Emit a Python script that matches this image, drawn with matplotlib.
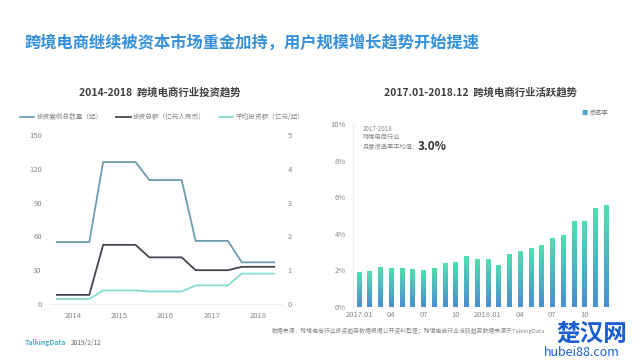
import matplotlib.pyplot as plt
import matplotlib.colors as mcolors
import numpy as np

plt.rcParams['font.family'] = ['Noto Sans CJK SC', 'DejaVu Sans']

# 投资趋势 2014-2018
years = [2014, 2015, 2016, 2017, 2018]
case_count = [55, 126, 110, 56, 37]          # 投资案例总数量（起），左轴
total_amount = [0.27, 1.75, 1.38, 1.0, 1.1]  # 投资总额，右轴
avg_amount = [0.15, 0.40, 0.37, 0.55, 0.90]  # 平均投资额，右轴

# 活跃趋势 2017.01-2018.12
months = list(range(24))
penetration = [1.9, 1.95, 2.2, 2.15, 2.15, 2.1, 2.0, 2.15, 2.4, 2.45, 2.8, 2.65,
               2.6, 2.3, 2.9, 3.05, 3.2, 3.4, 3.75, 3.95, 4.7, 4.7, 5.4, 5.55]
month_ticks = [0, 3, 6, 9, 12, 15, 18, 21]
month_labels = ['2017.01', '04', '07', '10', '2018.01', '04', '07', '10']

W, H = 640, 360


def px(x, y, w, h):
    return [x / W, 1 - (y + h) / H, w / W, h / H]


def fy(y):
    return 1 - y / H


def stepline(xs, vs, half=0.35):
    xx, yy = [], []
    for x, v in zip(xs, vs):
        xx += [x - half, x + half]
        yy += [v, v]
    return xx, yy


fig = plt.figure(figsize=(6.4, 3.6), dpi=100)
fig.patch.set_facecolor('white')

fig.text(25 / W, fy(42), '跨境电商继续被资本市场重金加持，用户规模增长趋势开始提速',
         fontsize=11.7, fontweight='bold', color='#3590dc', va='center', ha='left')

# ---- 左图 ----
fig.text(160 / W, fy(92), '2014-2018  跨境电商行业投资趋势', fontsize=7.5,
         fontweight='bold', color='#404040', ha='center', va='center')

ax1 = fig.add_axes(px(50, 135, 232, 169))
ax2 = ax1.twinx()
grey = '#888888'
c_count, c_total, c_avg = '#6c9cb0', '#454552', '#86dccf'

x, y = stepline(years, case_count)
l1, = ax1.plot(x, y, color=c_count, lw=1.3)
x, y = stepline(years, total_amount)
l2, = ax2.plot(x, y, color=c_total, lw=1.3)
x, y = stepline(years, avg_amount)
l3, = ax2.plot(x, y, color=c_avg, lw=1.3)

ax1.set_ylim(0, 150)
ax2.set_ylim(0, 5)
ax1.set_xlim(2013.5, 2018.52)
ax1.set_yticks([0, 30, 60, 90, 120, 150])
ax2.set_yticks([0, 1, 2, 3, 4, 5])
ax1.set_xticks(years)
for a in (ax1, ax2):
    for s in a.spines.values():
        s.set_visible(False)
    a.tick_params(length=0, labelsize=5.5, colors=grey)
ax1.tick_params(axis='y', pad=6)
ax2.tick_params(axis='y', pad=4)
ax1.tick_params(axis='x', pad=6)
ax1.spines['bottom'].set_visible(True)
ax1.spines['bottom'].set_color('#eeeeee')

fig.legend([l1, l2, l3], ['投资案例总数量（起）', '投资总额（亿元人民币）', '平均投资额（亿元/起）'],
           loc='center', bbox_to_anchor=(162 / W, fy(117)), ncol=3, frameon=False,
           fontsize=4.8, labelcolor=grey, handlelength=2.2, handletextpad=0.3,
           columnspacing=2.0)

# ---- 右图 ----
fig.text(480 / W, fy(92), '2017.01-2018.12  跨境电商行业活跃趋势', fontsize=7.5,
         fontweight='bold', color='#404040', ha='center', va='center')

ax3 = fig.add_axes(px(353, 124, 259, 183))
bars = ax3.bar(months, penetration, width=0.42, color='none', edgecolor='none')
cmap = mcolors.LinearSegmentedColormap.from_list('g', ['#4a8ed2', '#50e0b0'])
grad = np.linspace(0, 1, 100).reshape(-1, 1)
for b in bars:
    bx, bw, bh = b.get_x(), b.get_width(), b.get_height()
    im = ax3.imshow(grad, cmap=cmap, origin='lower', aspect='auto',
                    extent=[bx, bx + bw, 0, bh], zorder=2)
    im.set_clip_path(b)
ax3.set_xlim(-0.56, 23.56)
ax3.set_ylim(0, 10)
ax3.set_yticks([0, 2, 4, 6, 8, 10])
ax3.set_yticklabels([f'{v}%' for v in [0, 2, 4, 6, 8, 10]])
ax3.set_xticks(month_ticks)
ax3.set_xticklabels(month_labels)
for s in ['top', 'right', 'bottom']:
    ax3.spines[s].set_visible(False)
ax3.spines['left'].set_color('#eeeeee')
ax3.tick_params(length=0, labelsize=5.5, colors=grey)
ax3.tick_params(axis='y', pad=5)
ax3.tick_params(axis='x', pad=3)

fig.text(363 / W, fy(129), '2017-2018', fontsize=4.5, color=grey, va='center', ha='left')
fig.text(363 / W, fy(136.5), '跨境电商行业', fontsize=4.5, color=grey, va='center', ha='left')
fig.text(363 / W, fy(147), '月度渗透率平均值：', fontsize=4.5, color=grey, va='center', ha='left')
fig.text(418 / W, fy(147), '3.0%', fontsize=8.5, fontweight='bold',
         color='#333333', va='center', ha='left')

fig.text(584 / W, fy(113), '■', fontsize=4.5, color='#4aa8c8', va='center', ha='center')
fig.text(589 / W, fy(113), '渗透率', fontsize=4.8, color=grey, va='center', ha='left')

# ---- 页脚 ----
fig.text(272 / W, fy(331),
         '数据来源：跨境电商行业投资趋势数据根据公开资料整理；跨境电商行业活跃趋势数据来源于TalkingData',
         fontsize=4.2, color='#888888', style='italic', va='center', ha='left')
fig.text(25 / W, fy(343), 'TalkingData', fontsize=5, color='#4bb0c8',
         fontweight='bold', va='center', ha='left')
fig.text(71 / W, fy(343), '2019/2/12', fontsize=4.8, color='#666666', va='center', ha='left')

fig.text(592 / W, fy(334), '楚汉网', fontsize=17, fontweight='bold', color='#1a5fd0',
         va='center', ha='center')
fig.text(582 / W, fy(352), 'hubei88.com', fontsize=9, color='#1a5fd0',
         va='center', ha='center')

fig.savefig('out.png', dpi=100, facecolor='white')
